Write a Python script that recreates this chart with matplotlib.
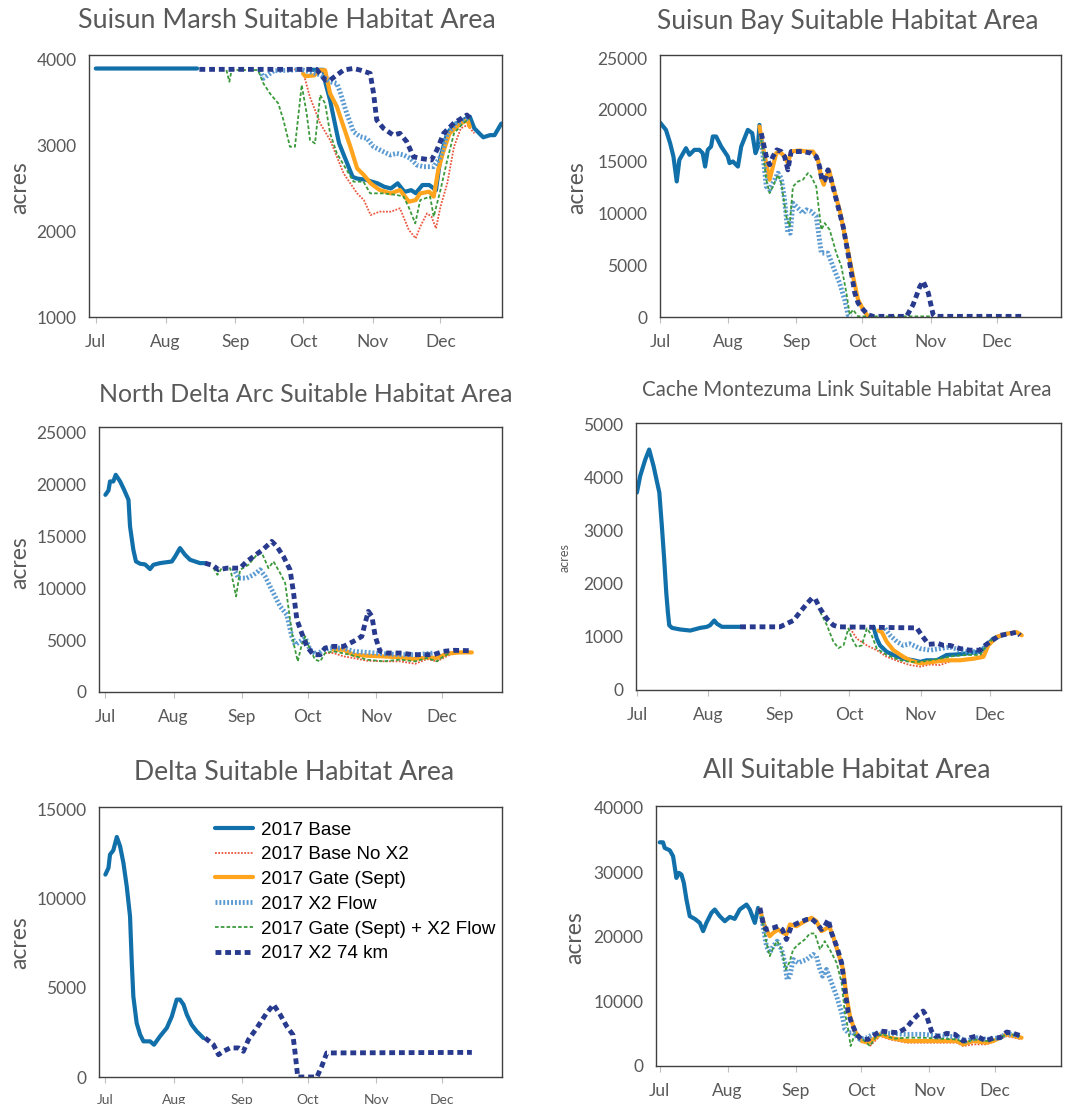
import numpy as np
import matplotlib
matplotlib.use('Agg')
import matplotlib.pyplot as plt

nan = np.nan

# x positions are days counted from 1 Jul 2017
month_days = [0, 31, 62, 92, 123, 153]
month_names = ['Jul', 'Aug', 'Sep', 'Oct', 'Nov', 'Dec']
labels = ['2017 Base', '2017 Base No X2', '2017 Gate (Sept)', '2017 X2 Flow',
          '2017 Gate (Sept) + X2 Flow', '2017 X2 74 km']

# ---- Suisun Marsh
sm_base = [(0,3890),(45,3890),(46,nan),(96,3875),(101,3875),(102,3717),(104,3520),(107,3140),(108,3020),
           (111,2825),(114,2630),(116,2610),(120,2595),(125,2555),(128,2515),(131,2495),(134,2555),(137,2455),
           (140,2475),(142,2440),(145,2535),(148,2535),(151,2475),(153,2860),(156,3135),(159,3235),(163,3290),
           (166,3330),(168,3195),(171,3115),(172,3090),(175,3115),(177,3115),(180,3250)]
sm_nox2 = [(88,3880),(92,3853),(95,3562),(99.6,3252),(104,3058),(110,2670),(116,2438),(119,2360),(122,2186),
           (126,2225),(131,2225),(135,2264),(139,2010),(142,1915),(144,2050),(147,2205),(149,2167),(151,2031),
           (153,2283),(156,2554),(159,2980),(162,3194),(165,3233),(168,3136)]
sm_gate = [(92,3830),(93,3800),(97,3810),(99,3870),(101.8,3870),(104,3600),(107,3446),(110,3213),(113,2980),
           (116,2729),(119,2651),(122,2554),(126,2477),(131,2438),(135,2477),(139,2341),(142,2360),(144,2438),
           (148,2457),(150,2400),(152,2709),(154,2903),(157,3136),(162,3252),(165,3290),(166,3213)]
sm_flow = [(73,3870),(74.4,3775),(79,3864),(86,3870),(91,3880),(100,3814),(104,3736),(107,3717),(108.4,3620),
           (111.4,3368),(114.4,3155),(117.3,3097),(120.3,3078),(123.3,2980),(127.7,2922),(130.7,2884),
           (133.6,2903),(136.6,2884),(139.6,2845),(142.5,2767),(145.5,2748),(150,2748),(153,2864),(156,3136),
           (160,3252),(165,3310)]
sm_gflow = [(58,3872),(59.3,3736),(60.3,3872),(72,3872),(74.4,3717),(77.3,3600),(81,3484),(83.3,3290),
            (86.2,2980),(88.4,2980),(91.4,3698),(93.6,3368),(95.1,3058),(97.3,3019),(99.6,3581),(101.8,3484),
            (104,3136),(107,2903),(111.4,2709),(114.4,2574),(118.8,2574),(121.8,2438),(127.7,2438),(133.6,2419),
            (136.6,2400),(138.8,2283),(141.8,2089),(144,2360),(148.4,2400),(150,2167),(153,2477),(156,2825),
            (159,3136),(163,3252),(166,3310)]
sm_x274 = [(46,3880),(98,3880),(101.8,3756),(104,3756),(107,3814),(110,3872),(114.4,3891),(117.3,3872),
           (121.8,3833),(123.3,3600),(124.7,3290),(127.7,3194),(132,3116),(135,3136),(138,3039),(141,2864),
           (144,2845),(149,2825),(151.4,2942),(154.4,3136),(158.8,3252),(164.7,3349),(166.2,3310)]

# ---- Suisun Bay
sb_base = [(0,18780),(2.7,18070),(4.6,16785),(6.1,15500),(7.6,13090),(8.8,15180),(11.8,16300),(13.4,15660),
           (15.6,16140),(17.9,16140),(19.4,15820),(20.5,14530),(21.7,16140),(23.2,16460),(24,17430),(25.5,17430),
           (27.8,16460),(30.8,15500),(31.6,14860),(33.1,15020),(35.4,14530),(36.9,16460),(39.9,18070),
           (41.9,17750),(43.4,15820),(44.5,16460),(45.2,18550)]
sb_nox2 = []
sb_gate = [(45.2,18390),(47,16140),(49.8,13250),(51.3,14530),(52.8,15820),(54.3,15980),(56.6,15500),(58.1,14860),
           (59.6,15980),(63.4,16080),(66.5,15980),(69.5,15980),(71.8,15180),(73.3,13410),(74.4,12770),
           (75.6,13570),(76.8,14210),(78.6,12600),(81.6,10350),(84.7,7140),(87.7,3920),(90,1670),(92.3,710),
           (94.5,60)]
sb_flow = [(46,17100),(48.3,12600),(49.8,12280),(51.3,12930),(53.6,13890),(55.1,13410),(56.6,11320),(58.1,8100),
           (59.2,8100),(60.4,11000),(62.7,10510),(64.9,10030),(66.5,10350),(68.7,10190),(71,9710),(73.3,6170),
           (74.8,6170),(76.3,6170),(78.6,4890),(81.6,3280),(83.9,1670),(85.4,220),(87,60)]
sb_gflow = [(46,17100),(48.3,13250),(49.8,11960),(51.3,12600),(53.6,13730),(55.1,12930),(57.4,9710),(58.9,8750),
            (60.4,12600),(62.7,13090),(64.9,13250),(67.2,13890),(68.7,13570),(71,12600),(73.3,8420),(74.8,9070),
            (77.1,8420),(80.1,6170),(82.4,4890),(84.7,2320),(86.2,220),(87.7,710),(90,60),(124,60)]
sb_x274 = [(46,17750),(48.3,15500),(49.8,14700),(51.3,15500),(53.1,16140),(55.1,15980),(56.6,15500),(58.1,14210),
           (59.6,15980),(64.9,15980),(68.7,15820),(71,15500),(72.5,14530),(73.7,13090),(74.9,13250),(76.3,14210),
           (77.8,13250),(80.1,11320),(83.2,8750),(86.2,5210),(88.5,2320),(90,1350),(92.3,710),(94.5,220),
           (96.8,60),(112,60),(115,1190),(118.1,2960),(119.6,3440),(121.9,2320),(124.1,220),(125,60),(165.1,60)]

# ---- North Delta Arc
nd_base = [(0,18970),(1.4,19390),(2.1,20260),(3.6,20260),(4.7,20900),(6.7,20260),(8.5,19460),(10.5,18490),
           (11.2,15930),(12.7,13690),(13.9,12560),(15.8,12340),(18,12280),(20.3,11830),(21.8,12240),(24.8,12400),
           (30.2,12560),(31.7,13040),(33.9,13850),(36.2,13200),(38.5,12720),(43,12400),(45.3,12400)]
nd_nox2 = [(99.8,3750),(103.6,3750),(108.2,3430),(112.7,3270),(118.8,3010),(126.4,2950),(133.9,2950),
           (140.8,2720),(146.1,3170),(150.6,2950),(153.6,3270),(158.2,3750)]
nd_gate = [(103.6,4070),(108.2,4070),(112.7,3590),(118.8,3490),(126.4,3430),(133.9,3330),(140,3170),(146.1,3330),
           (150.6,3270),(155.2,3690),(161.2,3810),(166.5,3810)]
nd_flow = [(58.2,11920),(60.5,10960),(64.2,10960),(67.3,11280),(70.3,11760),(72.6,11120),(74.8,10160),(77.1,9200),
           (79.4,8240),(82.4,7440),(84.7,5350),(86.2,4550),(88.5,4870),(90.8,5190),(93,4070),(96.1,3590),
           (99.1,4070),(102.1,4230),(108.2,4230),(112.7,3910),(118.8,3810),(126.4,3690),(133.9,3590),
           (141.5,3590),(149.1,3750)]
nd_gflow = [(49.1,11920),(50.9,11280),(52.9,11920),(56.7,11920),(59.4,9200),(61.2,11760),(65,12240),(68.8,13200),
            (71.1,13370),(74.1,11920),(76.4,12560),(79.4,11440),(81.7,10480),(83.9,6960),(85.5,4710),(87.4,2950),
            (89.2,4550),(90.8,5350),(93,4070),(95.3,3110),(97.6,2950),(99.8,3750),(103.6,3910),(111.2,3590),
            (118.8,3110),(126.4,2950),(133.9,3110),(140.8,2950),(146.1,3270),(150.6,2950),(153.6,3430),
            (156.7,3750)]
nd_x274 = [(45.3,12400),(49.1,12150),(51.4,11760),(55.2,11920),(58.2,11920),(61.2,11920),(64.2,12560),
           (67.3,13040),(71.8,13750),(75.6,14490),(77.9,14010),(80.9,13040),(83.9,11760),(85.5,9520),(87,6960),
           (89.2,5670),(91.5,4390),(94.5,3590),(97.6,3590),(99.8,4230),(103.6,4390),(108.2,4390),(112.7,4870),
           (116.5,5350),(118,6630),(119.5,7760),(121.1,7280),(122.6,5350),(124.8,3910),(127.9,3750),(133.9,3750),
           (140,3590),(149.1,3590),(153.6,3910),(158.2,4010),(166.5,3970)]

# ---- Cache Montezuma Link
cm_base = [(0,3720),(1.4,4030),(3.6,4340),(5.3,4530),(7.2,4220),(9.7,3720),(10.8,3090),(11.8,2470),(12.7,1840),
           (13.4,1470),(14,1220),(15.2,1170),(18.8,1140),(23.1,1120),(27.4,1170),(30.3,1190),(31.7,1220),
           (33.5,1310),(34.6,1250),(36.8,1190),(44.7,1190),(45,nan),(102.5,1190),(103.9,970),(105.3,840),
           (108.2,720),(111.1,660),(115.4,590),(119.8,560),(122.7,530),(125.5,560),(129.9,560),(134.2,660),
           (138.5,670),(142.9,690),(148.6,720),(151.5,840),(154.4,970),(160.2,1060)]
cm_nox2 = [(92.4,1160),(95.2,970),(99.6,840),(103.9,750),(108.2,625),(114,530),(118.3,470),(122.7,440),(127,480),
           (131.3,470),(137.1,560),(142.9,560),(148.6,590),(151.5,840),(154.4,970)]
cm_gate = [(104.6,1120),(106.1,1090),(108.2,910),(111.1,750),(115.4,625),(118.3,560),(122.7,500),(128.4,530),
           (134.2,560),(140,560),(145.7,590),(150.1,625),(152.2,840),(155.8,1000),(160.2,1060),(164.5,1090),
           (166.7,1030)]
cm_flow = [(107.5,1160),(109.7,1030),(112.6,910),(115.4,840),(118.3,870),(122.7,780),(127,750),(131.3,780),
           (135.6,810),(140,750),(144.3,720),(148.6,720),(151.5,840)]
cm_gflow = [(79.4,1470),(82.3,1220),(85.1,910),(87.3,790),(89.5,840),(91.6,1160),(93.1,970),(95.2,810),(97.4,840),
            (99.6,1160),(101.7,1030),(103.9,780),(108.2,660),(114,560),(118.3,530),(122.7,530),(127,560),
            (131.3,590),(137.1,640),(142.9,660),(148.6,660),(151.5,840),(154.4,970)]
cm_x274 = [(44.7,1190),(62,1190),(64.9,1250),(67.8,1310),(70.7,1470),(73.6,1625),(75.8,1730),(77.2,1720),
           (79.4,1530),(82.3,1340),(85.1,1220),(87.3,1190),(121.2,1170),(123.4,1030),(126.3,860),(130.6,875),
           (132.8,840),(135.6,840),(140,780),(144.3,750),(148.6,750),(150.8,840),(153,910),(157.3,1030),
           (161.6,1060),(164.5,1090),(166,1030)]

# ---- Delta
de_base = [(0,11350),(1.4,11720),(2.1,12470),(3.6,12710),(5.2,13460),(6.7,12930),(8.2,12000),(9.7,10690),
           (11.2,9010),(12,6390),(12.7,4520),(14.2,3030),(15.8,2370),(17.3,2000),(20.3,2000),(22.1,1810),
           (24.8,2280),(27.9,2750),(30.2,3400),(32.4,4340),(33.9,4340),(35.5,4060),(37,3500),(39.2,2930),
           (41.5,2560),(44.5,2190)]
de_x274 = [(45.3,2190),(49.1,1810),(51.4,1250),(53.6,1440),(56.7,1630),(60.5,1630),(62.7,1440),(65,2090),
           (68.8,2750),(73.3,3590),(76.4,4060),(79.4,3500),(82.4,2840),(85.2,2370),(86.2,1350),(87.4,0),(96.1,0),
           (98.3,600),(100.6,1350),(103.6,1350),(166.5,1380)]

# ---- All
al_base = [(0,34640),(1.5,34640),(2.3,33760),(4.6,33400),(6.1,32470),(6.8,30930),(7.6,29120),(8.8,29900),
           (9.9,29640),(11,28350),(12.2,25770),(13.7,23200),(16,22780),(18.3,22160),(19.8,20880),(21.3,22160),
           (23.6,23710),(25.1,24230),(27.4,23200),(29.7,22420),(32,23090),(34.2,22780),(36.5,24230),(39.6,25000),
           (41.1,24230),(43.4,22160),(44.9,24480)]
al_nox2 = [(95.9,3090),(100.5,4640),(105,4120),(112.6,3610),(120.2,3610),(127.9,3610),(135.5,3610),(138.5,3090),
           (143.1,3350),(149.2,3350),(158.3,4640),(165.1,4120)]
al_gate = [(45.7,24230),(47.9,21650),(50.2,20100),(51.8,20620),(54,21130),(56.3,20620),(57.8,20360),(59.4,21910),
           (62.4,21650),(67,22580),(69.3,22940),(71.5,22420),(73.8,20880),(75.3,21130),(77.3,21650),(79.1,20100),
           (81.4,17530),(83.7,14950),(85.2,10820),(86.8,7730),(89,5410),(92.1,3870),(95.1,3610),(97.4,4120),
           (100.5,4900),(105,4380),(112.6,3870),(120.2,3870),(127.9,3870),(135.5,3870),(138.5,3350),(143.1,3870),
           (149.2,3610),(152.2,3870),(158.3,4900),(165.1,4380)]
al_flow = [(46.4,23200),(48.7,18560),(50.2,17530),(51.8,18560),(53.6,19330),(55.6,18040),(57.1,15980),(58.1,13400),
           (59.4,13920),(60.9,16490),(63.2,15980),(67,16490),(70,17270),(71.5,17010),(73.1,14950),(74.3,13920),
           (76.1,14950),(78.4,12890),(80.7,10820),(83,8250),(84.5,5670),(86,5150),(88.3,5150),(91.3,4120),
           (94.4,4380),(97.4,4900),(100.5,5150),(105,5050),(112.6,4900),(120.2,4900),(127.9,4640),(135.5,4540),
           (140,3870),(144.6,4380),(149.2,4120),(155.3,4380),(158.3,5050),(164.4,4640)]
al_gflow = [(46.4,23200),(48.7,19070),(50.2,17010),(51.8,18300),(53.6,19330),(55.6,18040),(57.5,14950),
            (59.1,15980),(60.9,18040),(63.2,18810),(66.2,19590),(68.5,20520),(70.8,20520),(73.1,18040),
            (75.3,19330),(77.6,18040),(80.7,15980),(83,12890),(84.5,8250),(86,5670),(87.1,3090),(89,4900),
            (91.3,4380),(93.6,3870),(95.9,3090),(98.9,4640),(102,4900),(106.5,4230),(112.6,4380),(120.2,4380),
            (127.9,4230),(135.5,4120),(139.3,3610),(143.1,4120),(149.2,3870),(155.3,4230),(158.3,5050),(164.4,4640)]
al_x274 = [(45.7,24480),(47.5,21650),(48.7,21130),(51.8,21390),(54,21650),(56,21130),(57.8,19590),(60.1,21650),
           (63.2,22160),(67,22680),(69.3,22780),(71.5,22160),(73.8,21130),(75.3,21650),(76.9,22680),(78.4,20620),
           (80.7,18560),(83,15980),(84.5,11860),(86,8250),(87.5,6700),(89.8,4900),(92.1,4120),(95.1,4120),
           (97.4,4640),(100.5,5410),(105,5260),(108.8,5150),(112.6,5930),(115.7,7220),(118,7990),(120.2,8510),
           (121.8,7730),(124,5410),(125.6,4640),(127.9,4640),(130.9,5050),(134.7,4900),(138.5,3870),(141.6,4380),
           (144.6,4640),(147.6,4120),(149.2,3870),(152.2,4380),(155.3,4380),(158.3,5260),(161.3,5050),(165.1,4640)]

styles = [
    dict(color='#1170AA', lw=3.0, ls='-'),
    dict(color='#E9573F', lw=1.3, ls=(0, (1, 0.8))),
    dict(color='#FFA41C', lw=3.0, ls='-'),
    dict(color='#5C9BD1', lw=3.5, ls=(0, (0.4, 0.4))),
    dict(color='#3C9A3C', lw=1.3, ls=(0, (2, 1.2))),
    dict(color='#283A8E', lw=3.5, ls=(0, (1.2, 0.8))),
]

gray = '#595959'
plt.rcParams['font.family'] = ['Lato', 'DejaVu Sans']

fig = plt.figure(figsize=(10.83, 11.04), dpi=100)
W, H = 1083, 1104


def px_axes(l, t, r, b):
    return fig.add_axes([l / W, 1 - b / H, (r - l) / W, (b - t) / H])


def panel(box, series, xlim, ylim, yticks, title, tpos, tsize, lpos, lsize, xsize=12.5):
    ax = px_axes(*box)
    lines = []
    for pts, st in zip(series, styles):
        d = [p[0] for p in pts]
        v = [p[1] for p in pts]
        ln, = ax.plot(d, v, color=st['color'], lw=st['lw'], linestyle=st['ls'],
                      dash_capstyle='butt', solid_capstyle='round', solid_joinstyle='round')
        lines.append(ln)
    ax.set_xlim(*xlim)
    ax.set_ylim(*ylim)
    ax.set_yticks(yticks)
    ax.set_yticklabels([str(t) for t in yticks])
    ax.set_xticks(month_days)
    ax.set_xticklabels(month_names)
    ax.tick_params(axis='y', length=0, pad=9, labelsize=12.5, labelcolor=gray)
    ax.tick_params(axis='x', length=4, width=0.8, color='#BFBFBF', pad=8, labelsize=xsize, labelcolor=gray)
    for s in ax.spines.values():
        s.set_color('#404040')
        s.set_linewidth(1.0)
    fig.text(tpos[0] / W, 1 - tpos[1] / H, title, ha='center', va='center', fontsize=tsize, color=gray)
    fig.text(lpos[0] / W, 1 - lpos[1] / H, 'acres', ha='center', va='center', rotation=90,
             fontsize=lsize, color=gray)
    return ax, lines


panel((89, 55, 502, 317), [sm_base, sm_nox2, sm_gate, sm_flow, sm_gflow, sm_x274],
      (-3, 180.3), (1000, 4047), [1000, 2000, 3000, 4000],
      'Suisun Marsh Suitable Habitat Area', (287, 21), 19.3, (20, 188), 16.5)
panel((660, 55, 1061, 317), [sb_base, sb_nox2, sb_gate, sb_flow, sb_gflow, sb_x274],
      (0, 182.2), (0, 25300), [0, 5000, 10000, 15000, 20000, 25000],
      'Suisun Bay Suitable Habitat Area', (848, 21), 19, (577, 188), 16.5)
panel((99, 427, 502, 692), [nd_base, nd_nox2, nd_gate, nd_flow, nd_gflow, nd_x274],
      (-2.9, 180.2), (0, 25500), [0, 5000, 10000, 15000, 20000, 25000],
      'North Delta Arc Suitable Habitat Area', (306, 395), 17.9, (20, 563), 16.5)
panel((636, 423, 1061, 690), [cm_base, cm_nox2, cm_gate, cm_flow, cm_gflow, cm_x274],
      (-0.4, 183.7), (0, 5030), [0, 1000, 2000, 3000, 4000, 5000],
      'Cache Montezuma Link Suitable Habitat Area', (847, 390), 14.8, (565, 558), 9)
ax5, lines5 = panel((99, 807, 502, 1077), [de_base, [], [], [], [], de_x274],
                    (-2.9, 180.2), (0, 15140), [0, 5000, 10000, 15000],
                    'Delta Suitable Habitat Area', (294, 772), 19.2, (20, 943), 16.5, xsize=10)
panel((656, 806, 1061, 1066), [al_base, al_nox2, al_gate, al_flow, al_gflow, al_x274],
      (-1.7, 183.1), (0, 40260), [0, 10000, 20000, 30000, 40000],
      'All Suitable Habitat Area', (847, 770), 19.2, (575, 938), 16.5)

ax5.legend(lines5, labels, loc='upper left', bbox_to_anchor=(0.27, 0.975), frameon=False,
           prop={'family': 'Liberation Sans', 'size': 13.6}, handlelength=2.0, handletextpad=0.4,
           labelspacing=0.4, borderaxespad=0)

fig.savefig('out.png', dpi=100)
